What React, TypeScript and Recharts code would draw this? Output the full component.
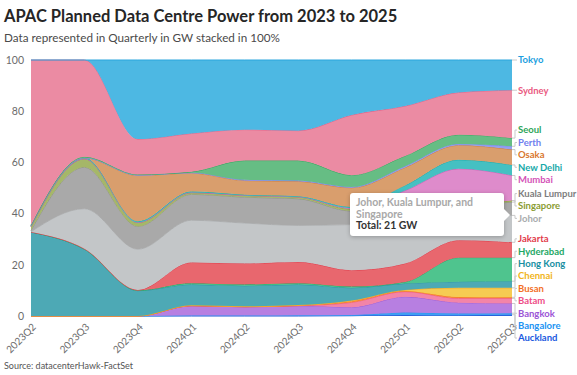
import React from "react";
import { AreaChart, Area, XAxis, YAxis } from "recharts";

const FONT = "Lato, 'Noto Sans', sans-serif";

const quarters = ["2023Q2", "2023Q3", "2023Q4", "2024Q1", "2024Q2", "2024Q3", "2024Q4", "2025Q1", "2025Q2", "2025Q3"];

const auckland = [0, 0, 0, 0, 0, 0, 0.1, 0.4, 0.3, 0.5];
const bangalore = [0, 0, 0, 0.2, 0.2, 0.3, 0.3, 1.0, 0.7, 0.6];
const bangkok = [0, 0, 0, 3.8, 3.4, 3.7, 3.0, 6.1, 4.2, 3.8];
const batam = [0, 0, 0, 0, 0, 0, 1.9, 2.0, 1.7, 2.0];
const busan = [0, 0, 0, 0, 0, 0.1, 0.5, 0.3, 0.5, 0.4];
const chennai = [0, 0, 0, 0.2, 0.2, 0.2, 0.3, 0.4, 3.6, 3.7];
const hongKong = [32.8, 26.1, 9.9, 8.1, 8.0, 8.0, 4.9, 2.5, 2.4, 2.6];
const hyderabad = [0, 0, 0.1, 0.5, 0.5, 0.5, 0.5, 0.6, 9.4, 9.2];
const jakarta = [0, 0.2, 0.2, 8.1, 8.2, 8.3, 6.4, 7.2, 6.8, 6.0];
const johor = [0.1, 15.6, 15.9, 16.5, 15.8, 14.3, 17.8, 17.5, 9.9, 10.5];
const kualaLumpur = [0.5, 16.2, 8.9, 10.1, 10.1, 10.4, 5.3, 4.5, 3.5, 5.2];
const singapore = [1.5, 3.3, 1.5, 0.7, 0.7, 0.7, 0.8, 0.7, 0.6, 0.6];
const mumbai = [0, 0, 0, 0, 0, 0, 0.3, 5.8, 13.9, 9.8];
const newDelhi = [0.3, 0.4, 0.5, 0.4, 0.3, 0.3, 0.5, 2.0, 3.5, 4.1];
const osaka = [0, 0, 17.9, 7.2, 5.5, 5.8, 7.5, 7.0, 5.7, 6.0];
const perth = [0, 0, 0.1, 0.2, 0.3, 0.3, 0.3, 0.5, 0.5, 1.3];
const seoul = [0.3, 0.4, 0.3, 0.3, 7.5, 7.8, 4.6, 4.0, 3.6, 3.2];
const sydney = [64.5, 37.8, 13.8, 15.0, 12.1, 11.7, 23.5, 19.5, 16.5, 18.7];
const tokyo = [0, 0, 30.9, 28.7, 27.2, 27.6, 21.5, 18.0, 12.7, 11.8];

const yTicks = [0, 20, 40, 60, 80, 100];

// stack order, bottom first
const stackOrder = [
  "Auckland", "Bangalore", "Bangkok", "Batam", "Busan", "Chennai", "Hong Kong", "Hyderabad", "Jakarta",
  "Johor", "Kuala Lumpur", "Singapore", "Mumbai", "New Delhi", "Osaka", "Perth", "Seoul", "Sydney", "Tokyo",
];
// order of the end labels, top first
const labelOrder = [
  "Tokyo", "Sydney", "Seoul", "Perth", "Osaka", "New Delhi", "Mumbai", "Kuala Lumpur", "Singapore", "Johor",
  "Jakarta", "Hyderabad", "Hong Kong", "Chennai", "Busan", "Batam", "Bangkok", "Bangalore", "Auckland",
];

const seriesValues: Record<string, number[]> = {
  Auckland: auckland, Bangalore: bangalore, Bangkok: bangkok, Batam: batam, Busan: busan, Chennai: chennai,
  "Hong Kong": hongKong, Hyderabad: hyderabad, Jakarta: jakarta, Johor: johor, "Kuala Lumpur": kualaLumpur,
  Singapore: singapore, Mumbai: mumbai, "New Delhi": newDelhi, Osaka: osaka, Perth: perth, Seoul: seoul,
  Sydney: sydney, Tokyo: tokyo,
};

// fill, line, label text
const colors: Record<string, [string, string, string]> = {
  Tokyo: ["#4db8e3", "#2aa5dd", "#1e9fe0"],
  Sydney: ["#eb8ba3", "#e6648a", "#ea5a82"],
  Seoul: ["#66bd84", "#3aa862", "#2ea55a"],
  Perth: ["#939ff0", "#7b8af0", "#6f80ee"],
  Osaka: ["#d99e6d", "#d08040", "#d9782d"],
  "New Delhi": ["#45c0c2", "#1fb0b0", "#16a9a9"],
  Mumbai: ["#de8bcb", "#d060b8", "#d452b7"],
  "Kuala Lumpur": ["#a9a9a9", "#909090", "#7d7d7d"],
  Singapore: ["#a5b768", "#8ea040", "#8a9c32"],
  Johor: ["#c3c6c8", "#b0b3b5", "#a9acae"],
  Jakarta: ["#e8676e", "#e03c4b", "#e23a4a"],
  Hyderabad: ["#4fc48e", "#22a866", "#1ea865"],
  "Hong Kong": ["#4da9b5", "#2a95a5", "#198fa2"],
  Chennai: ["#f6cb52", "#f2a81e", "#f1b41a"],
  Busan: ["#f8893f", "#f57a22", "#f36f1f"],
  Batam: ["#f384a8", "#ef5a8e", "#ee4d87"],
  Bangkok: ["#b77fe1", "#a060d8", "#9b54d6"],
  Bangalore: ["#3f9ff3", "#2391f0", "#2193f3"],
  Auckland: ["#2c68e0", "#1f5ad8", "#1a5ae0"],
};

const rows = quarters.map((q, i) => {
  const row: Record<string, string | number> = { quarter: q };
  stackOrder.forEach((n) => (row[n] = seriesValues[n][i]));
  return row;
});

const W = 577;
const H = 375;
const PLOT_TOP = 60;
const X_AXIS_H = 59;
const PLOT_H = H - PLOT_TOP - X_AXIS_H;
const GAP = 12.4;
const LABEL_MAX = 342;

// end label placement: start at each series' top edge, spread apart where they collide
const last = quarters.length - 1;
const total = stackOrder.reduce((s, n) => s + seriesValues[n][last], 0);
const anchorPx: Record<string, number> = {};
let cum = 0;
stackOrder.forEach((n) => {
  cum += seriesValues[n][last];
  anchorPx[n] = PLOT_TOP + (1 - cum / total) * PLOT_H;
});

function spread(anchors: number[]) {
  type Cl = { idx: number[]; sum: number };
  const top = (c: Cl) => c.sum / c.idx.length - ((c.idx.length - 1) * GAP) / 2;
  const bottom = (c: Cl) => top(c) + (c.idx.length - 1) * GAP;
  const cls: Cl[] = [];
  anchors.forEach((a, i) => {
    cls.push({ idx: [i], sum: a });
    while (cls.length > 1) {
      const c = cls[cls.length - 1];
      const p = cls[cls.length - 2];
      if (top(c) >= bottom(p) + GAP) break;
      cls.splice(cls.length - 2, 2, { idx: [...p.idx, ...c.idx], sum: p.sum + c.sum });
    }
  });
  const pos: number[] = [];
  cls.forEach((c) => c.idx.forEach((i, k) => (pos[i] = top(c) + k * GAP)));
  for (let i = pos.length - 1; i >= 0; i--) {
    const lim = i === pos.length - 1 ? LABEL_MAX : pos[i + 1] - GAP;
    if (pos[i] > lim) pos[i] = lim;
  }
  return pos;
}

const placed = spread(labelOrder.map((n) => anchorPx[n]));
const labelShift: Record<string, number> = {};
labelOrder.forEach((n, i) => (labelShift[n] = placed[i] - anchorPx[n]));

const makeEndLabel = (name: string) => (props: any) => {
  if (props.index !== last) return null;
  const x = props.x ?? props.viewBox?.x;
  const y = props.y ?? props.viewBox?.y;
  const ly = y + labelShift[name];
  return (
    <g>
      <path d={`M${x},${y}H${x + 3}V${ly}H${x + 5}`} stroke="#c9c9c9" strokeWidth={1} fill="none" />
      <text x={x + 6} y={ly} dy="0.35em" fill={colors[name][2]} fontSize={9.5} fontWeight={700} fontFamily={FONT}>
        {name}
      </text>
    </g>
  );
};

const XTick = (props: any) => {
  const { x, y, payload } = props;
  return (
    <g transform={`translate(${x},${y})`}>
      <text x={0} y={0} dy={8} textAnchor="end" transform="rotate(-45)" fill="#6b6b6b" fontSize={10} fontFamily={FONT}>
        {payload.value}
      </text>
    </g>
  );
};

export default function App() {
  return (
    <div style={{ position: "fixed", left: 0, top: 0, width: W, height: H, background: "#fff", fontFamily: FONT }}>
      <div style={{ position: "absolute", left: 4, top: 6, fontSize: 16.5, lineHeight: "20px", fontWeight: 700, color: "#262626", whiteSpace: "nowrap" }}>
        APAC Planned Data Centre Power from 2023 to 2025
      </div>
      <div style={{ position: "absolute", left: 4, top: 30, fontSize: 11.7, lineHeight: "15px", color: "#4a4a4a", whiteSpace: "nowrap" }}>
        Data represented in Quarterly in GW stacked in 100%
      </div>
      <div style={{ position: "absolute", left: 0, top: 0 }}>
        <AreaChart width={W} height={H} data={rows} stackOffset="expand" margin={{ top: PLOT_TOP, right: 65, left: 0, bottom: 0 }}>
          <XAxis dataKey="quarter" height={X_AXIS_H} interval={0} tickLine={false} axisLine={false} tickSize={0} tickMargin={6} tick={<XTick />} />
          <YAxis
            width={31}
            ticks={yTicks.map((t) => t / 100)}
            domain={[0, 1]}
            tickFormatter={(v: number) => String(Math.round(v * 100))}
            tickLine={false}
            axisLine={false}
            tickSize={0}
            tickMargin={7}
            tick={{ fill: "#6b6b6b", fontSize: 10.5, fontFamily: FONT }}
          />
          {stackOrder.map((n) => (
            <Area
              key={n}
              type="monotone"
              dataKey={n}
              stackId="1"
              fill={colors[n][0]}
              fillOpacity={1}
              stroke={colors[n][1]}
              strokeWidth={1}
              activeDot={false}
              isAnimationActive={false}
              label={makeEndLabel(n)}
            />
          ))}
        </AreaChart>
      </div>
      <div
        style={{
          position: "absolute", left: 350, top: 193, width: 154, height: 43, background: "#fff", borderRadius: 3,
          boxShadow: "0 1px 4px rgba(0,0,0,0.25)", boxSizing: "border-box", padding: "4px 6px", fontSize: 10.5,
          lineHeight: "11.5px", fontWeight: 700,
        }}
      >
        <div style={{ color: "#a8a8a8" }}>Johor, Kuala Lumpur, and</div>
        <div style={{ color: "#a8a8a8" }}>Singapore</div>
        <div style={{ color: "#333" }}>Total: 21 GW</div>
        <div style={{ position: "absolute", right: -6, top: 16, width: 0, height: 0, borderTop: "6px solid transparent", borderBottom: "6px solid transparent", borderLeft: "6px solid #fff" }} />
      </div>
      <div style={{ position: "absolute", left: 4, top: 360, fontSize: 9, lineHeight: "12px", color: "#555", whiteSpace: "nowrap" }}>
        Source: datacenterHawk-FactSet
      </div>
    </div>
  );
}
